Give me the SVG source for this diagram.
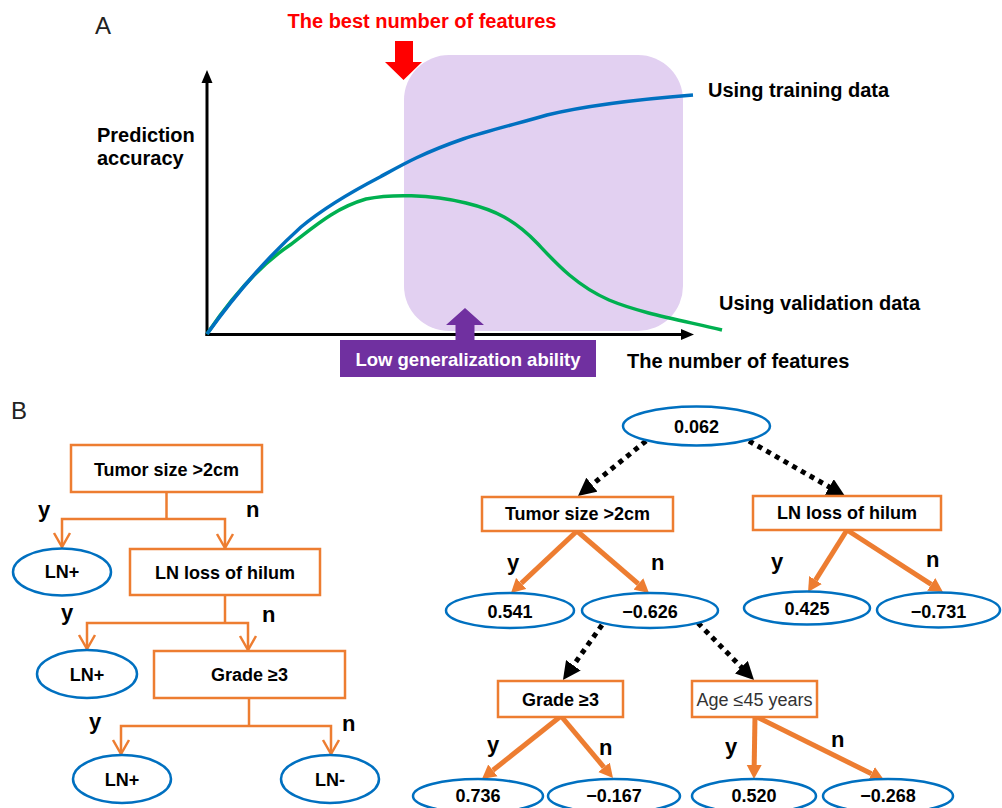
<svg xmlns="http://www.w3.org/2000/svg" width="1002" height="808" viewBox="0 0 1002 808">
<defs>
<style>
text{font-family:"Liberation Sans",Arial,sans-serif;}
.big{font-weight:bold;font-size:20px;fill:#000}
.t{font-weight:bold;font-size:18px;fill:#000;text-anchor:middle}
.yn{font-weight:bold;font-size:22px;fill:#000}
.box{fill:#fff;stroke:#ED7D31;stroke-width:2.5}
.ell{fill:#fff;stroke:#0070C0;stroke-width:2.5}
.oline{fill:none;stroke:#ED7D31;stroke-width:2.5}
.othick{fill:none;stroke:#ED7D31;stroke-width:5;marker-end:url(#oh)}
.dot{fill:none;stroke:#000;stroke-width:5;stroke-dasharray:5 5;marker-end:url(#kh)}
.axis{fill:none;stroke:#000;stroke-width:3}
</style>
<marker id="oh" viewBox="0 -8 15 16" refX="0" refY="0" markerWidth="15" markerHeight="16" markerUnits="userSpaceOnUse" orient="auto"><path d="M0,-7.5 L14,0 L0,7.5 z" fill="#ED7D31"/></marker>
<marker id="kh" viewBox="0 -9 18 18" refX="1" refY="0" markerWidth="18" markerHeight="18" markerUnits="userSpaceOnUse" orient="auto"><path d="M0,-9 L18,0 L0,9 z" fill="#000"/></marker>
</defs>
<rect width="1002" height="808" fill="#fff"/>

<!-- Panel A -->
<g id="panelA">
<text x="95" y="34" style="font-size:24px;fill:#222">A</text>
<rect id="overfit-region" x="404" y="55" width="279" height="276" rx="45" ry="45" fill="#E2D0F1"/>
<text x="422" y="28" class="big" style="fill:#FF0000;text-anchor:middle">The best number of features</text>
<polygon points="395,41 413,41 413,62 422,62 403.5,80 385,62 395,62" fill="#FF0000"/>
<line class="axis" x1="207" y1="336" x2="207" y2="80"/>
<polygon points="207,70 201.5,83 212.5,83" fill="#000"/>
<line class="axis" x1="205.5" y1="334.5" x2="683" y2="334.5"/>
<polygon points="694,334.5 681,329 681,340" fill="#000"/>
<text x="97" y="142" class="big">Prediction</text>
<text x="97" y="165" class="big">accuracy</text>
<path d="M207,334 C230,300 260,265 290,245 C315,226 335,208 366,199 C390,194 430,194 466,203 C495,210 515,220 537,243 C555,262 575,285 609,300 C640,313 680,320 722,330" fill="none" stroke="#00B050" stroke-width="3.5"/>
<path d="M207,334 C235,295 270,255 301,227 C325,207 355,190 380,177 C400,166 420,154 463,139 C490,130 520,123 547,115 C580,107 630,100 693,95" fill="none" stroke="#0070C0" stroke-width="3.5"/>
<text x="708" y="97" class="big">Using training data</text>
<text x="719" y="310" class="big">Using validation data</text>
<text x="627" y="368" class="big">The number of features</text>
<polygon points="465,308 484,325 474.5,325 474.5,342 455.5,342 455.5,325 446,325" fill="#7030A0"/>
<rect x="340" y="340" width="256" height="37" fill="#7030A0"/>
<text x="468" y="366" style="font-weight:bold;font-size:18.5px;fill:#fff;text-anchor:middle">Low generalization ability</text>
</g>

<text x="11" y="419" style="font-size:24px;fill:#222">B</text>

<!-- Connectors -->
<g id="connectors">
<!-- left tree -->
<polyline class="oline" points="166.5,492 166.5,519"/>
<polyline class="oline" points="62,547 62,519 225,519 225,548"/>
<polyline class="oline" points="54,533 62,547 70,533"/>
<polyline class="oline" points="217,534 225,548 233,534"/>
<polyline class="oline" points="225,595 225,623"/>
<polyline class="oline" points="87,649 87,623 248,623 248,650"/>
<polyline class="oline" points="79,635 87,649 95,635"/>
<polyline class="oline" points="240,636 248,650 256,636"/>
<polyline class="oline" points="249,698 249,726"/>
<polyline class="oline" points="121,754 121,726 331,726 331,754"/>
<polyline class="oline" points="113,740 121,754 129,740"/>
<polyline class="oline" points="323,740 331,754 339,740"/>
<!-- right tree dotted -->
<line class="dot" x1="646" y1="441" x2="591.2" y2="485.3"/>
<line class="dot" x1="749" y1="441" x2="830.2" y2="487.5"/>
<line class="dot" x1="602" y1="625" x2="572.8" y2="666.1"/>
<line class="dot" x1="698" y1="623" x2="742.1" y2="667.9"/>
<!-- right tree orange -->
<line class="othick" x1="577" y1="531" x2="521.2" y2="583.4"/>
<line class="othick" x1="577" y1="531" x2="638.4" y2="583.9"/>
<line class="othick" x1="847" y1="530" x2="815.5" y2="580.1"/>
<line class="othick" x1="847" y1="530" x2="931.2" y2="584.4"/>
<line class="othick" x1="561" y1="716" x2="492.9" y2="770.3"/>
<line class="othick" x1="561" y1="716" x2="604" y2="767.3"/>
<line class="othick" x1="755" y1="716" x2="754.2" y2="765"/>
<line class="othick" x1="755" y1="716" x2="871.5" y2="773.8"/>
<!-- labels -->
<text class="yn" x="38" y="517">y</text>
<text class="yn" x="246" y="517">n</text>
<text class="yn" x="61" y="620">y</text>
<text class="yn" x="262" y="622">n</text>
<text class="yn" x="89" y="729">y</text>
<text class="yn" x="342" y="731">n</text>
<text class="yn" x="507" y="570">y</text>
<text class="yn" x="651" y="570">n</text>
<text class="yn" x="771" y="569">y</text>
<text class="yn" x="926" y="567">n</text>
<text class="yn" x="487" y="752">y</text>
<text class="yn" x="599" y="755">n</text>
<text class="yn" x="725" y="754">y</text>
<text class="yn" x="831" y="747">n</text>
</g>

<!-- Left tree nodes -->
<g id="L-tumor"><rect class="box" x="71" y="445" width="191" height="47"/><text class="t" x="166.5" y="476">Tumor size &gt;2cm</text></g>
<g id="L-ln1"><ellipse class="ell" cx="62" cy="572" rx="49" ry="23.5"/><text class="t" x="62" y="578">LN+</text></g>
<g id="L-hilum"><rect class="box" x="130" y="549" width="190" height="46"/><text class="t" x="225" y="579">LN loss of hilum</text></g>
<g id="L-ln2"><ellipse class="ell" cx="87" cy="674" rx="50" ry="24"/><text class="t" x="87" y="681">LN+</text></g>
<g id="L-grade"><rect class="box" x="154" y="651" width="191" height="47"/><text class="t" x="249.5" y="681">Grade ≥3</text></g>
<g id="L-ln3"><ellipse class="ell" cx="122" cy="779" rx="49" ry="24"/><text class="t" x="122" y="786">LN+</text></g>
<g id="L-lnneg"><ellipse class="ell" cx="330" cy="779" rx="49" ry="24"/><text class="t" x="330" y="786">LN-</text></g>

<!-- Right tree nodes -->
<g id="R-root"><ellipse class="ell" cx="696.5" cy="426" rx="73.5" ry="19.5"/><text class="t" x="696.5" y="433">0.062</text></g>
<g id="R-tumor"><rect class="box" x="482" y="497" width="191" height="34"/><text class="t" x="577.5" y="520">Tumor size &gt;2cm</text></g>
<g id="R-hilum"><rect class="box" x="753" y="496" width="188" height="34"/><text class="t" x="847" y="519">LN loss of hilum</text></g>
<g id="R-v541"><ellipse class="ell" cx="510" cy="610.5" rx="64" ry="17.5"/><text class="t" x="510" y="618">0.541</text></g>
<g id="R-v626"><ellipse class="ell" cx="650" cy="610.5" rx="68" ry="17.5"/><text class="t" x="650" y="618">−0.626</text></g>
<g id="R-v425"><ellipse class="ell" cx="807" cy="608" rx="63" ry="16.5"/><text class="t" x="807" y="615">0.425</text></g>
<g id="R-v731"><ellipse class="ell" cx="938.5" cy="610" rx="61.5" ry="17.5"/><text class="t" x="938.5" y="618">−0.731</text></g>
<g id="R-grade"><rect class="box" x="498" y="681" width="125" height="36"/><text class="t" x="560.5" y="706">Grade ≥3</text></g>
<g id="R-age"><rect class="box" x="692" y="681" width="125" height="36"/><text x="754.5" y="706" style="font-size:18px;fill:#333;text-anchor:middle">Age ≤45 years</text></g>
<g id="R-v736"><ellipse class="ell" cx="478" cy="796" rx="65" ry="17"/><text class="t" x="478" y="802">0.736</text></g>
<g id="R-v167"><ellipse class="ell" cx="614" cy="796" rx="66" ry="17"/><text class="t" x="614" y="802">−0.167</text></g>
<g id="R-v520"><ellipse class="ell" cx="754" cy="796" rx="62" ry="17"/><text class="t" x="754" y="802">0.520</text></g>
<g id="R-v268"><ellipse class="ell" cx="888" cy="796" rx="65" ry="17"/><text class="t" x="888" y="802">−0.268</text></g>
</svg>
